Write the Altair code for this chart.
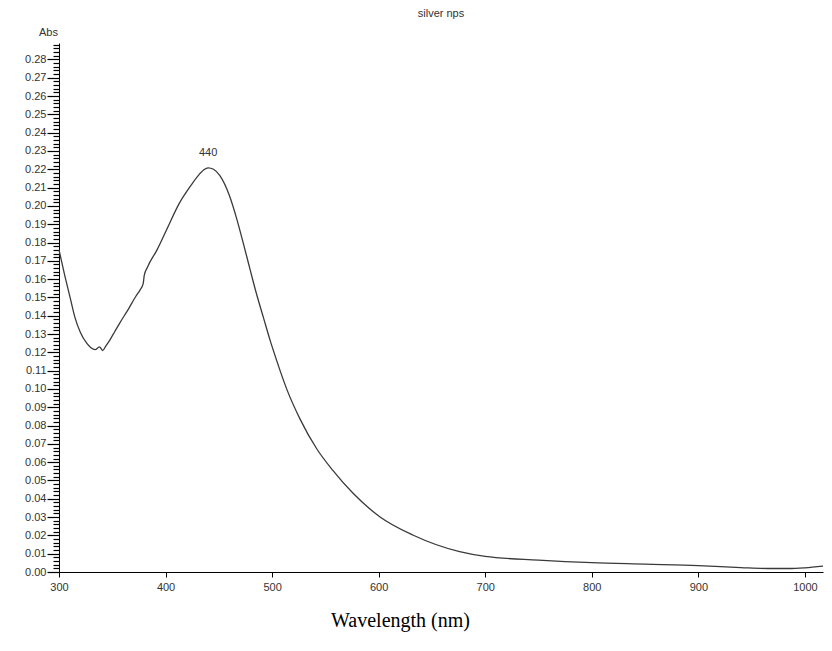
import altair as alt
import pandas as pd

wavelength = [300, 305, 310, 315, 320, 326, 330, 334, 338, 341, 344, 348, 352, 357,
              365, 372, 376, 379, 380, 383, 392, 401, 413, 423, 432, 436, 440, 445,
              451, 460, 467, 473, 479, 485, 492, 498, 504, 514, 526, 542, 557, 576,
              601, 632, 676, 700, 750, 800, 850, 900, 940, 965, 985, 1000, 1017]
absorbance = [0.176, 0.163, 0.151, 0.139, 0.131, 0.125, 0.1225, 0.1215, 0.123, 0.121,
              0.1235, 0.127, 0.131, 0.136, 0.1435, 0.1505, 0.154, 0.1575, 0.162, 0.1665,
              0.176, 0.187, 0.2015, 0.2105, 0.2175, 0.2198, 0.2208, 0.2200, 0.2165,
              0.2055, 0.1925, 0.1795, 0.1660, 0.1527, 0.1387, 0.1268, 0.1160, 0.0995,
              0.0838, 0.0672, 0.0555, 0.0430, 0.0302, 0.0202, 0.0111, 0.0085, 0.0065,
              0.0051, 0.0043, 0.0035, 0.0024, 0.0019, 0.0019, 0.0023, 0.0032]

peak_wl = [440]
peak_abs = [0.2208]
peak_text = ["440"]

x_ticks = [300, 400, 500, 600, 700, 800, 900, 1000]
y_ticks = [i / 500 for i in range(0, 145)]  # every 0.002 (minor), labelled every 0.01

df = pd.DataFrame({"wl": wavelength, "abs": absorbance})
peak_df = pd.DataFrame({"wl": peak_wl, "abs": peak_abs, "t": peak_text})

major_test = "abs(datum.value*100 - round(datum.value*100)) < 0.001"

x_enc = alt.X("wl:Q", scale=alt.Scale(domain=[300, 1017], nice=False, zero=False),
              axis=alt.Axis(values=x_ticks, format="d", title="Wavelength (nm)", grid=False,
                            domainColor="black", tickColor="black", tickSize=5,
                            labelFlush=False,
                            labelFont="Liberation Sans", labelFontSize=11,
                            labelColor="#333333", labelPadding=4,
                            titleFont="Liberation Serif", titleFontSize=20,
                            titleFontWeight="normal", titleColor="black",
                            titleAnchor="start", titleAlign="center",
                            titleX=341, titleY=48, titleBaseline="middle"))
y_enc = alt.Y("abs:Q", scale=alt.Scale(domain=[0, 0.289], nice=False),
              axis=alt.Axis(values=y_ticks, tickCount=400, title="Abs", grid=False,
                            domainColor="black", tickColor="black", tickWidth=1.2,
                            tickSize=alt.condition(major_test, alt.value(12), alt.value(6)),
                            labelExpr=f"({major_test}) ? format(datum.value, '.2f') : ''",
                            labelOverlap=False, labelFlush=False,
                            labelFont="Liberation Sans",
                            labelFontSize=11, labelColor="#333333", labelPadding=1,
                            titleAngle=0, titleFont="Liberation Sans", titleFontSize=11,
                            titleFontWeight="normal", titleColor="#333333",
                            titleAlign="center", titleBaseline="middle",
                            titleX=-11, titleY=-11))

line = alt.Chart(df).mark_line(color="#3a3a3a", strokeWidth=1.3,
                               interpolate="monotone").encode(x=x_enc, y=y_enc)

label = alt.Chart(peak_df).mark_text(font="Liberation Sans", fontSize=11,
                                      color="#333333", dy=-15).encode(
    x="wl:Q", y="abs:Q", text="t:N")

chart = alt.layer(line, label).properties(
    width=764, height=529,
    title=alt.TitleParams("silver nps", font="Liberation Sans", fontSize=11,
                          fontWeight="normal", color="#333333", anchor="middle",
                          offset=7),
    padding={"left": 51, "top": 35, "right": 1, "bottom": 65},
    autosize=alt.AutoSizeParams(type="none"),
).configure_view(stroke=None)

chart.save("out.html", embed_options={"renderer": "svg", "actions": False})
